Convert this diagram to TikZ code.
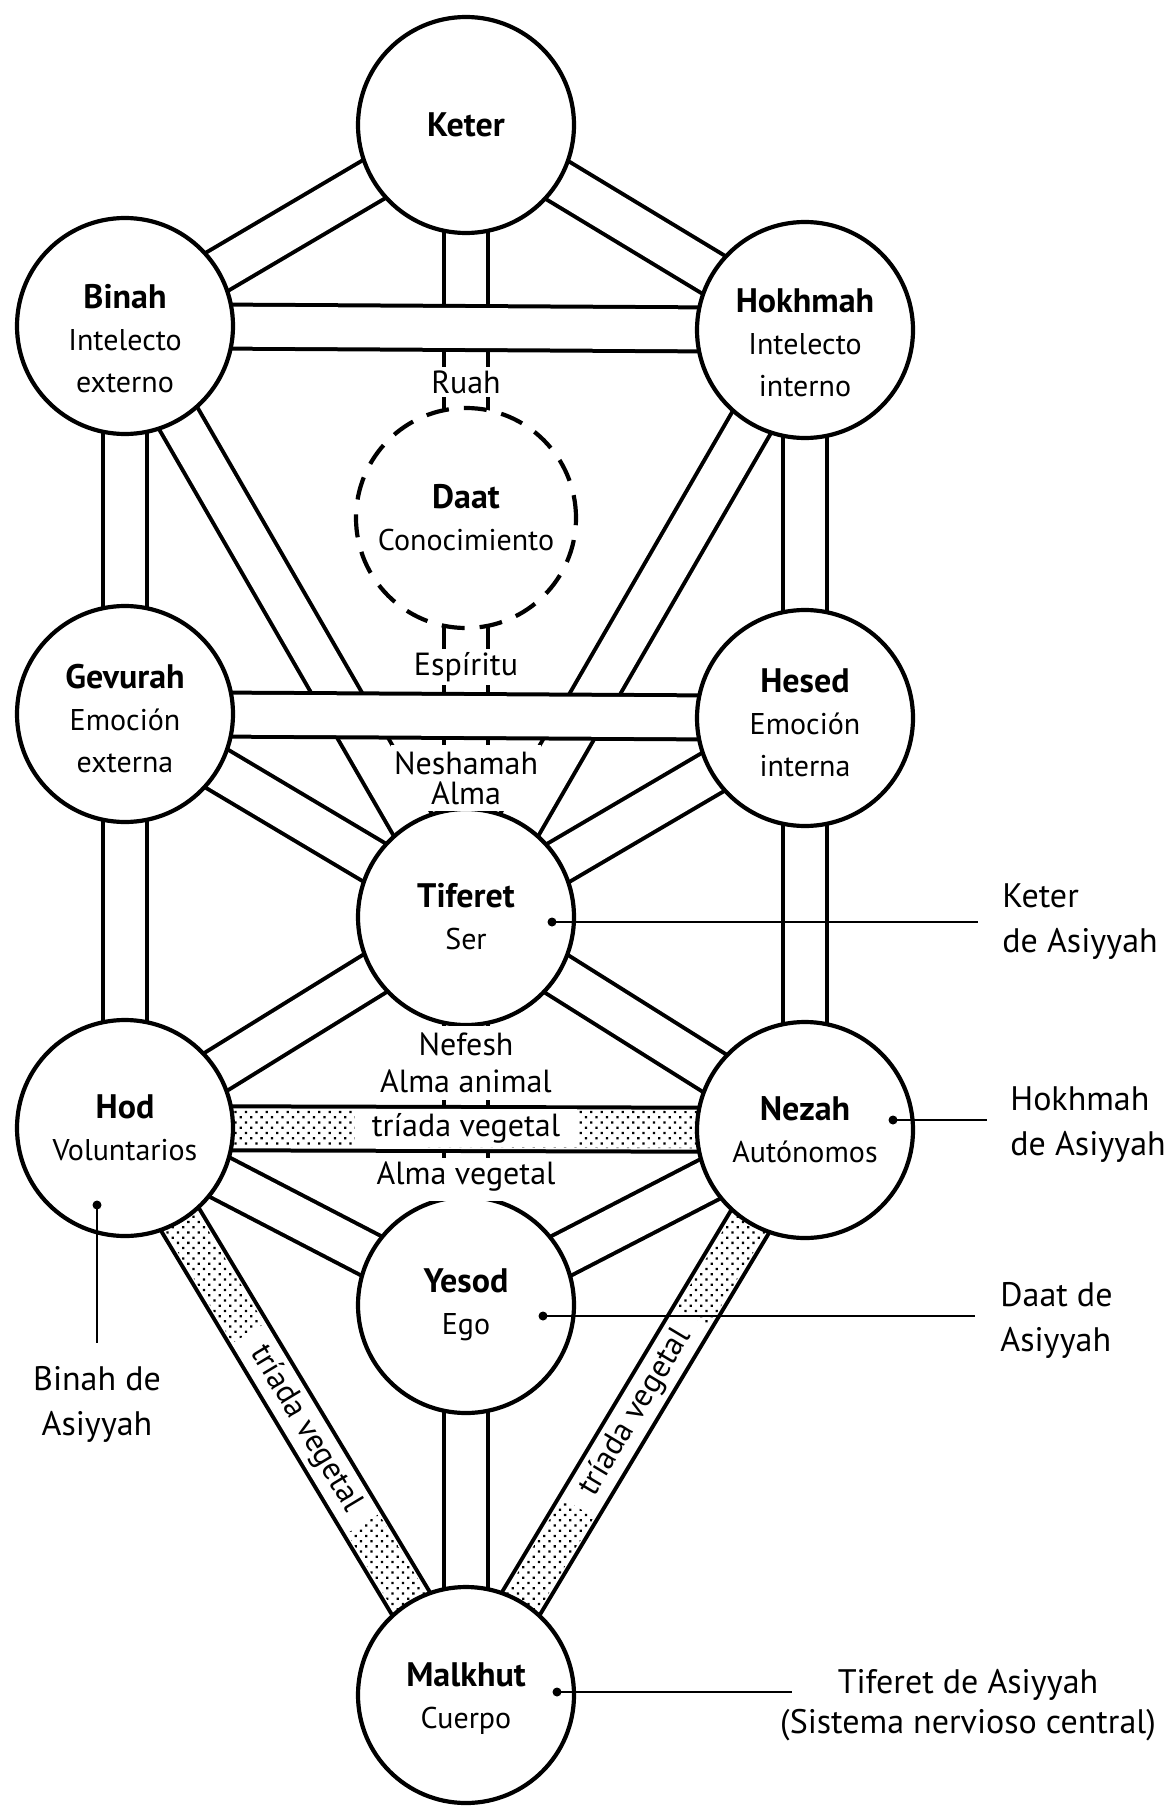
\documentclass[tikz,border=0pt]{standalone}
\usepackage{fontspec}
\setmainfont{PT Sans}
\usetikzlibrary{calc,patterns,patterns.meta}
\pgfdeclarelayer{background}
\pgfsetlayers{background,main}
\newcommand\sefname[1]{{\fontsize{17}{21}\selectfont\bfseries #1}}
\newcommand\stipband[2]{%
  \fill[stip] ($(#1.center)!9.3pt!90:(#2.center)$) -- ($(#2.center)!9.3pt!-90:(#1.center)$)
    -- ($(#2.center)!9.3pt!90:(#1.center)$) -- ($(#1.center)!9.3pt!-90:(#2.center)$) -- cycle;}
\begin{document}
\begin{tikzpicture}[x=0.5pt,y=-0.5pt,
  sef/.style={circle,draw,line width=2.1pt,fill=white,minimum size=108pt,inner sep=0pt,
    align=center,font=\fontsize{15}{21}\selectfont},
  seftext/.style={inner sep=0pt,align=center,font=\fontsize{15}{21}\selectfont},
  chanout/.style={line width=24pt,black},
  chanin/.style={line width=20pt,white},
  lab/.style={fill=white,inner sep=1.5pt,align=center,font=\fontsize{16}{15}\selectfont},
  vlab/.style={fill=white,inner sep=0pt,minimum width=111pt,minimum height=19pt,
    font=\fontsize{16}{18}\selectfont},
  side/.style={inner sep=0pt,font=\fontsize{17}{22.5}\selectfont},
  pdot/.style={circle,fill=black,inner sep=0pt,minimum size=4.5pt},
  ptr/.style={line width=1.4pt},
  stip/.style={pattern={Dots[distance=3.7pt,radius=0.8pt,angle=45]},pattern color=black},
]
\useasboundingbox (0,0) rectangle (1171,1808);

% sefirot
\node[sef] (keter) at (466,125) {\sefname{Keter}};
\node[sef,label={[seftext,name=tbinah,yshift=-6.5pt]center:{\sefname{Binah}\\Intelecto\\externo}}] (binah) at (125,326) {};
\node[sef,label={[seftext,name=thokhmah,yshift=-6.5pt]center:{\sefname{Hokhmah}\\Intelecto\\interno}}] (hokhmah) at (805,330) {};
\node[sef,minimum size=110pt,dash pattern=on 11.5pt off 7.5pt] (daat) at (466,518) {\sefname{Daat}\\Conocimiento};
\node[sef,label={[seftext,name=tgevurah,yshift=-2.5pt]center:{\sefname{Gevurah}\\Emoción\\externa}}] (gevurah) at (125,714) {};
\node[sef,label={[seftext,name=thesed,yshift=-2.5pt]center:{\sefname{Hesed}\\Emoción\\interna}}] (hesed) at (805,718) {};
\node[sef] (tiferet) at (466,917) {\sefname{Tiferet}\\Ser};
\node[sef] (hod) at (125,1128) {\sefname{Hod}\\Voluntarios};
\node[sef] (nezah) at (805,1130) {\sefname{Nezah}\\Autónomos};
\node[sef] (yesod) at (466,1305) {\sefname{Yesod}\\Ego};
\node[sef,label={[seftext,name=tmalkhut,yshift=-2pt]center:{\sefname{Malkhut}\\Cuerpo}}] (malkhut) at (466,1695) {};

% channels
\begin{pgfonlayer}{background}
\foreach \a/\b in {keter/tiferet,binah/tiferet,hokhmah/tiferet,tiferet/yesod,
  keter/binah,keter/hokhmah,binah/hokhmah,binah/gevurah,hokhmah/hesed,
  gevurah/hesed,gevurah/tiferet,hesed/tiferet,gevurah/hod,hesed/nezah,
  hod/tiferet,nezah/tiferet,hod/yesod,nezah/yesod,yesod/malkhut}{
  \draw[chanout] (\a.center) -- (\b.center);
  \draw[chanin] (\a.center) -- (\b.center);
}
\foreach \a/\b in {hod/nezah,hod/malkhut,malkhut/nezah}{
  \draw[chanout] (\a.center) -- (\b.center);
  \draw[chanin] (\a.center) -- (\b.center);
  \stipband{\a}{\b}
}
\end{pgfonlayer}

% texts on the channels
\node[vlab] (tv1) at (466,1128) {tríada vegetal};
\path (hod.center) -- (malkhut.center) node[vlab,sloped,pos=0.53] (tv2) {tríada vegetal};
\path (malkhut.center) -- (nezah.center) node[vlab,sloped,pos=0.5] (tv3) {tríada vegetal};

\node[lab] (ruah) at (466,382) {Ruah};
\node[lab] (espiritu) at (466,667) {Espíritu};
\node[lab,inner ysep=3pt] (neshamah) at (466,778) {Neshamah\\Alma};
\node[lab,inner ysep=3.5pt,font=\fontsize{16}{18.5}\selectfont] (nefesh) at (466,1063) {Nefesh\\Alma animal};
\node[lab,anchor=base,text depth=7pt] (almaveg) at (466,1184) {Alma vegetal};

% pointers
\node[pdot] (dtif) at (552,922) {};
\coordinate (etif) at (978,922);
\draw[ptr] (dtif.center) -- (etif);
\node[pdot] (dnez) at (893,1120) {};
\coordinate (enez) at (987,1120);
\draw[ptr] (dnez.center) -- (enez);
\node[pdot] (dyes) at (543,1316) {};
\coordinate (eyes) at (975,1316);
\draw[ptr] (dyes.center) -- (eyes);
\node[pdot] (dmal) at (557,1692) {};
\coordinate (emal) at (792,1692);
\draw[ptr] (dmal.center) -- (emal);
\node[pdot] (dhod) at (97,1205) {};
\coordinate (ehod) at (97,1343);
\draw[ptr] (dhod.center) -- (ehod);

% side labels
\node[side,align=left,anchor=west] (lketer) at (1002,922) {Keter\\de Asiyyah};
\node[side,align=left,anchor=west] (lhokh) at (1010,1125) {Hokhmah\\de Asiyyah};
\node[side,align=left,anchor=west] (ldaat) at (1000,1320) {Daat de\\Asiyyah};
\node[side,align=center] (lbinah) at (97,1404) {Binah de\\Asiyyah};
\node[side,align=center,font=\fontsize{17}{20}\selectfont] (ltif) at (968,1705) {Tiferet de Asiyyah\\(Sistema nervioso central)};
\end{tikzpicture}
\end{document}
